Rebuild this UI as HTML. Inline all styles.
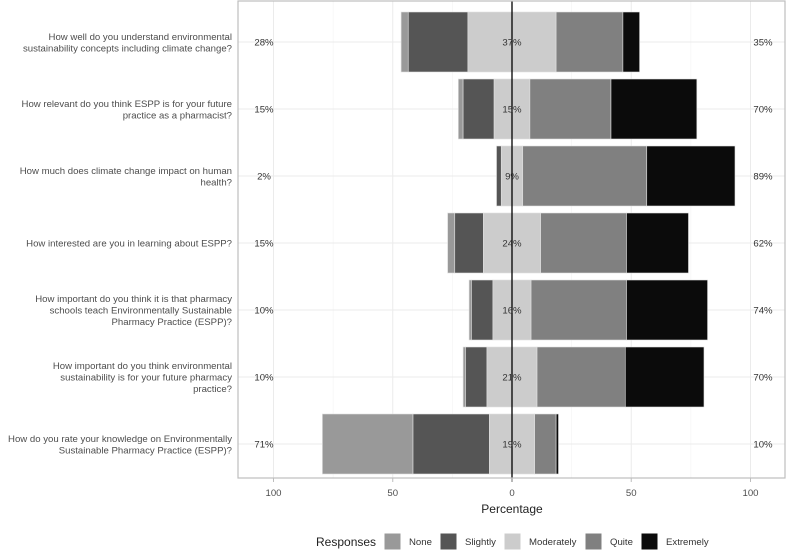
<!DOCTYPE html>
<html><head><meta charset="utf-8"><style>
body{margin:0;background:#fff;}
svg{display:block;font-family:"Liberation Sans",Arial,sans-serif;}
</style></head><body>
<svg id="chart" width="788" height="552" viewBox="0 0 788 552"></svg>
<script>
const questions = [
 ["How well do you understand environmental","sustainability concepts including climate change?"],
 ["How relevant do you think ESPP is for your future","practice as a pharmacist?"],
 ["How much does climate change impact on human","health?"],
 ["How interested are you in learning about ESPP?"],
 ["How important do you think it is that pharmacy","schools teach Environmentally Sustainable","Pharmacy Practice (ESPP)?"],
 ["How important do you think environmental","sustainability is for your future pharmacy","practice?"],
 ["How do you rate your knowledge on Environmentally","Sustainable Pharmacy Practice (ESPP)?"]
];
const noneVals = [3, 2, 0, 3, 1, 1, 38];
const slightlyVals = [25, 13, 2, 12, 9, 9, 32];
const moderatelyVals = [37, 15, 9, 24, 16, 21, 19];
const quiteVals = [28, 34, 52, 36, 40, 37, 9];
const extremelyVals = [7, 36, 37, 26, 34, 33, 1];
const leftLabels = ["28%","15%","2%","15%","10%","10%","71%"];
const midLabels = ["37%","15%","9%","24%","16%","21%","19%"];
const rightLabels = ["35%","70%","89%","62%","74%","70%","10%"];
const xTicks = [-100,-50,0,50,100];
const xTickLabels = ["100","50","0","50","100"];
const responses = ["None","Slightly","Moderately","Quite","Extremely"];
const colors = ["#999999","#555555","#cccccc","#808080","#0b0b0b"];

const NS="http://www.w3.org/2000/svg";
const svg=document.getElementById('chart');
const P={l:238,r:785,t:1,b:478};
const x=v=>512+v*2.385;
const y=i=>42+i*67;
const BH=60;
function el(tag,attrs,parent){const e=document.createElementNS(NS,tag);for(const k in attrs)e.setAttribute(k,attrs[k]);(parent||svg).appendChild(e);return e;}

// grid
[-75,-25,25,75].forEach(v=>{const g=el('line',{x1:x(v),x2:x(v),y1:P.t,y2:P.b,stroke:'#f2f2f2','stroke-width':0.6});

});
xTicks.forEach(v=>{const g=el('line',{x1:x(v),x2:x(v),y1:P.t,y2:P.b,stroke:'#ebebeb','stroke-width':1});

});
questions.forEach((q,i)=>{const g=el('line',{x1:P.l,x2:P.r,y1:y(i),y2:y(i),stroke:'#ebebeb','stroke-width':1});

});

// bars
const series=[noneVals,slightlyVals,moderatelyVals,quiteVals,extremelyVals];
questions.forEach((q,i)=>{
  let start=-(noneVals[i]+slightlyVals[i]+moderatelyVals[i]/2);
  series.forEach((s,k)=>{
    const v=s[i];
    if(v>0){
      const r=el('rect',{x:x(start),y:y(i)-BH/2,width:x(start+v)-x(start),height:BH,fill:colors[k],stroke:'#e0e0e0','stroke-width':0.6});
      
      
    }
    start+=v;
  });
});
// zero line
const z=el('line',{x1:x(0),x2:x(0),y1:P.t,y2:P.b+4,stroke:'#000','stroke-width':1.3});



// labels
questions.forEach((q,i)=>{
  const n=q.length;
  q.forEach((line,j)=>{
    const t=el('text',{x:232,y:y(i)+(j-(n-1)/2)*11.5+3.5,'text-anchor':'end','font-size':9.6,fill:'#4d4d4d'});
    t.textContent=line;
    
    
  });
  const a=el('text',{x:264,y:y(i)+3.5,'text-anchor':'middle','font-size':9.6,fill:'#333'});a.textContent=leftLabels[i];
  
  
  const b=el('text',{x:512,y:y(i)+3.5,'text-anchor':'middle','font-size':9.6,fill:'#333'});b.textContent=midLabels[i];
  
  
  const c=el('text',{x:763,y:y(i)+3.5,'text-anchor':'middle','font-size':9.6,fill:'#333'});c.textContent=rightLabels[i];
  
  
});

// panel border
const pb=el('rect',{x:P.l,y:P.t,width:P.r-P.l,height:P.b-P.t,fill:'none',stroke:'#bdbdbd','stroke-width':1.2});



// x ticks
xTicks.forEach((v,k)=>{
  const tk=el('line',{x1:x(v),x2:x(v),y1:P.b,y2:P.b+4,stroke:'#bdbdbd','stroke-width':1});
  
  
  const t=el('text',{x:x(v),y:496,'text-anchor':'middle','font-size':9.6,fill:'#4d4d4d'});t.textContent=xTickLabels[k];
  
  
});
const xt=el('text',{x:512,y:513,'text-anchor':'middle','font-size':12,fill:'#222'});xt.textContent='Percentage';



// legend
const lt=el('text',{x:316,y:546,'font-size':12,fill:'#222'});lt.textContent='Responses';


const keyX=[384,440,504,585,641];
responses.forEach((r,k)=>{
  const sq=el('rect',{x:keyX[k],y:533,width:17,height:17,fill:colors[k],stroke:'#fff','stroke-width':1});
  
  
  const t=el('text',{x:keyX[k]+25,y:545,'font-size':9.6,fill:'#333'});t.textContent=r;
  
  
});
</script>
</body></html>
